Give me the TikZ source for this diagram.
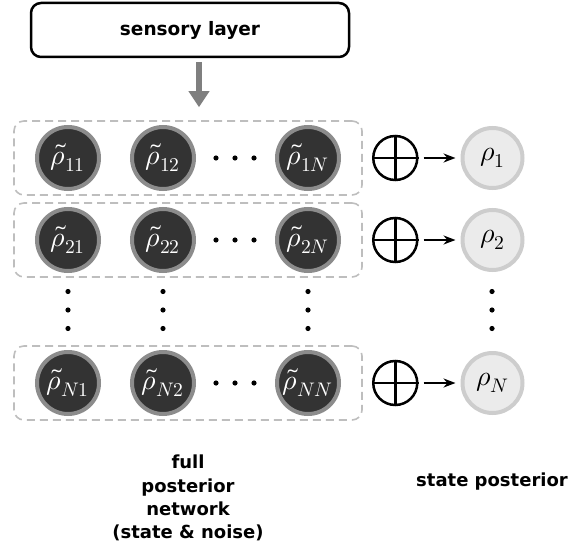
\documentclass[tikz,border=0pt]{standalone}
\usepackage{amsmath,amssymb}
\usepackage{fontspec}
\usepackage{unicode-math}
\setmathfont{Latin Modern Math}
\setsansfont{DejaVu Sans}
\usepackage{tikz}
\usetikzlibrary{arrows.meta,positioning,fit}

\definecolor{nodedark}{HTML}{333333}
\definecolor{noderim}{HTML}{8C8C8C}
\definecolor{postfill}{HTML}{EBEBEB}
\definecolor{postrim}{HTML}{CDCDCD}
\definecolor{rowdash}{HTML}{BEBEBE}
\definecolor{feedgray}{HTML}{7F7F7F}

% three dots in a row / in a column
\newcommand{\hdotrow}[2]{\foreach \k in {-1,0,1} \fill ({#1+19*\k},#2) circle (2.6pt);}
\newcommand{\vdotcol}[2]{\foreach \k in {-1,0,1} \fill (#1,{#2+18.5*\k}) circle (2.6pt);}

\begin{document}
\begin{tikzpicture}[x=1pt,y=-1pt,>=Stealth,
  full/.style={circle,draw=noderim,fill=nodedark,line width=4pt,minimum size=62pt,inner sep=0pt,text=white,font=\fontsize{28}{30}\selectfont},
  post/.style={circle,draw=postrim,fill=postfill,line width=4pt,minimum size=60pt,inner sep=0pt,font=\fontsize{28}{30}\selectfont},
  oplus/.style={circle,draw,line width=2.5pt,minimum size=44pt,inner sep=0pt},
  rowbox/.style={draw=rowdash,dashed,dash pattern=on 8pt off 5pt,line width=1.6pt,rounded corners=10pt,inner xsep=21pt,inner ysep=4pt},
  sensor/.style={draw,line width=2.5pt,rounded corners=10pt,minimum width=318pt,minimum height=54pt,font=\sffamily\bfseries\fontsize{18.5}{21}\selectfont},
  caption/.style={align=center,font=\sffamily\bfseries\fontsize{18}{23.3}\selectfont},
  feed/.style={feedgray,line width=6pt,-{Triangle[width=20pt,length=16pt]}},
  sum/.style={->,line width=2pt,shorten <=5pt,shorten >=5pt}]
\useasboundingbox (0,0) rectangle (570,559);

\node[sensor] (sens) at (190,30) {sensory layer};

% full posterior network
\node[full] (r11) at (68,158) {$\tilde\rho_{11}$};
\node[full,right=29pt of r11] (r12) {$\tilde\rho_{12}$};
\node[full,right=79pt of r12] (r1N) {$\tilde\rho_{1N}$};
\node[full,below=16pt of r11] (r21) {$\tilde\rho_{21}$};
\node[full,right=29pt of r21] (r22) {$\tilde\rho_{22}$};
\node[full,right=79pt of r22] (r2N) {$\tilde\rho_{2N}$};
\node[full,below=77pt of r21] (rN1) {$\tilde\rho_{N1}$};
\node[full,right=29pt of rN1] (rN2) {$\tilde\rho_{N2}$};
\node[full,right=79pt of rN2] (rNN) {$\tilde\rho_{NN}$};

\node[rowbox,fit=(r11)(r1N)] (row1) {};
\node[rowbox,fit=(r21)(r2N)] (row2) {};
\node[rowbox,fit=(rN1)(rNN)] (rowN) {};

\hdotrow{235}{158} \hdotrow{235}{240} \hdotrow{235}{383}
\vdotcol{68}{310} \vdotcol{163}{310} \vdotcol{308}{310}

% sums and state posterior
\node[oplus,right=31pt of r1N] (s1) {};
\node[oplus,right=31pt of r2N] (s2) {};
\node[oplus,right=31pt of rNN] (sN) {};
\foreach \s in {s1,s2,sN}
  \draw[line width=2.5pt] (\s.north) -- (\s.south) (\s.west) -- (\s.east);

\node[post,right=42pt of s1] (q1) {$\rho_1$};
\node[post,right=42pt of s2] (q2) {$\rho_2$};
\node[post,right=42pt of sN] (qN) {$\rho_N$};
\vdotcol{492}{310}

\draw[sum] (s1) -- (q1);
\draw[sum] (s2) -- (q2);
\draw[sum] (sN) -- (qN);

\coordinate (feedtop) at (199,62);
\draw[feed] (feedtop) -- ([yshift=13pt]row1.north -| feedtop);

\node[caption] (fulltxt) at (188,498) {full\\posterior\\network\\(state \& noise)};
\node[caption] (statetxt) at (492,482) {state posterior};
\end{tikzpicture}
\end{document}
